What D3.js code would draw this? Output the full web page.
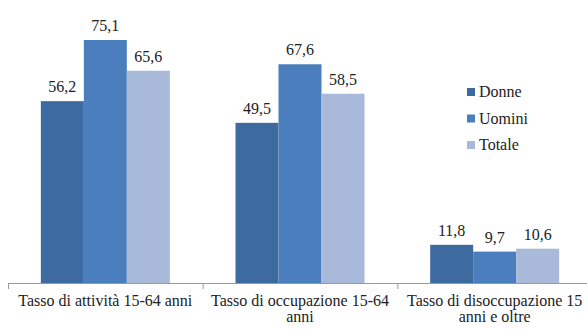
<!DOCTYPE html>
<html>
<head>
<meta charset="utf-8">
<script src="https://cdn.jsdelivr.net/npm/d3@7"></script>
</head>
<body style="margin:0">
<script>
// data
var categories = ["Tasso di attività 15-64 anni", "Tasso di occupazione 15-64 anni", "Tasso di disoccupazione 15 anni e oltre"];
var series = ["Donne", "Uomini", "Totale"];
var donne = [56.2, 49.5, 11.8];
var uomini = [75.1, 67.6, 9.7];
var totale = [65.6, 58.5, 10.6];
var colors = ["#3e6b9f", "#4a7ebc", "#a8b9d9"];

var values = [donne, uomini, totale];
var W = 587, H = 329;
var base = 283;

var svg = d3.select("body").append("svg")
	.attr("width", W)
	.attr("height", H);

var x0 = d3.scaleBand()
	.domain(categories)
	.range([8, 592]);

var x1 = d3.scaleBand()
	.domain(series)
	.range([0, 129]);

var y = d3.scaleLinear()
	.domain([0, 75.1])
	.range([base, 40]);

var fmt = function(v){ return d3.format(".1f")(v).replace(".", ","); };

function label(sel){
	return sel
		.style("font-family", "'Liberation Serif'")
		.attr("font-size", 16)
		.attr("fill", "#222");
}

var groups = svg.selectAll("g.grp")
	.data(categories)
	.enter()
	.append("g")
	.attr("class", "grp")
	.attr("transform", function(d){ return "translate(" + (x0(d) + x0.bandwidth()/2 - 64.5) + ",0)"; });

groups.each(function(cat, ci){
	var g = d3.select(this);
	var rows = series.map(function(s, si){ return {s: s, si: si, v: values[si][ci]}; });
	g.selectAll("rect")
		.data(rows)
		.enter()
		.append("rect")
		.attr("x", function(d){ return x1(d.s); })
		.attr("y", function(d){ return y(d.v); })
		.attr("width", x1.bandwidth())
		.attr("height", function(d){ return base - y(d.v); })
		.attr("fill", function(d){ return colors[d.si]; });
	g.selectAll("text")
		.data(rows)
		.enter()
		.append("text")
		.attr("x", function(d){ return x1(d.s) + x1.bandwidth()/2; })
		.attr("y", function(d){ return y(d.v) - 9; })
		.attr("text-anchor", "middle")
		.call(label)
		.text(function(d){ return fmt(d.v); });
});

// axis line
svg.append("path")
	.attr("d", "M8," + (base + 0.5) + "H592")
	.attr("stroke", "#999");

// boundary ticks
svg.selectAll("line.bt")
	.data(categories)
	.enter()
	.append("line")
	.attr("class", "bt")
	.attr("x1", function(d){ return x0(d) + 0.5; })
	.attr("x2", function(d){ return x0(d) + 0.5; })
	.attr("y1", base)
	.attr("y2", base + 6)
	.attr("stroke", "#999");

// category labels, wrapped like the original
var lines = [
	["Tasso di attività 15-64 anni"],
	["Tasso di occupazione 15-64", "anni"],
	["Tasso di disoccupazione 15", "anni e oltre"]
];
categories.forEach(function(c, i){
	lines[i].forEach(function(l, k){
		svg.append("text")
			.attr("x", x0(c) + x0.bandwidth()/2)
			.attr("y", 306 + k*16)
			.attr("text-anchor", "middle")
			.call(label)
			.text(l);
	});
});

// legend
var legend = svg.selectAll("g.leg")
	.data(series)
	.enter()
	.append("g")
	.attr("class", "leg")
	.attr("transform", function(d, i){ return "translate(467," + (92 + i*26.5) + ")"; });
legend.append("rect")
	.attr("x", 0).attr("y", -4)
	.attr("width", 8).attr("height", 8)
	.attr("fill", function(d, i){ return colors[i]; });
legend.append("text")
	.attr("x", 12).attr("y", 5)
	.call(label)
	.text(function(d){ return d; });
</script>
</body>
</html>
